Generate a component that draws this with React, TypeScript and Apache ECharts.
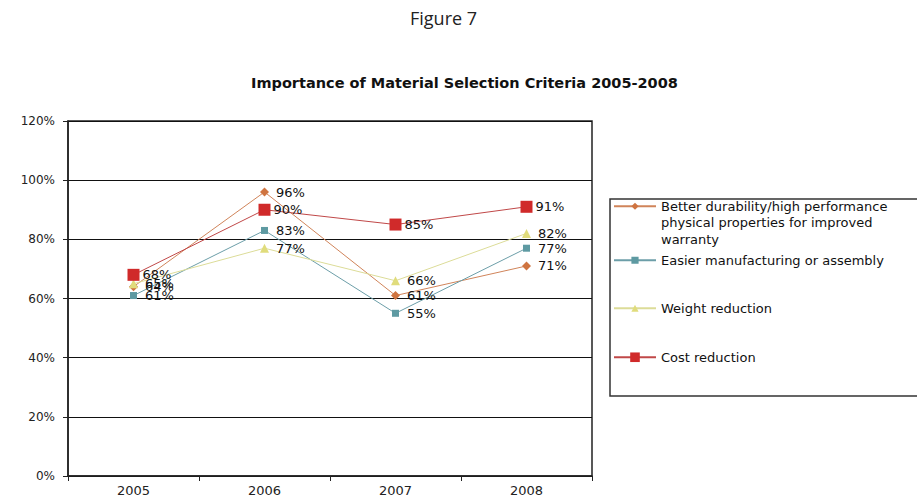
import React, { useEffect, useRef } from "react";
import * as echarts from "echarts";

const years = ["2005", "2006", "2007", "2008"];
const durabilityName =
  "Better durability/high performance physical properties for improved warranty";
const easierName = "Easier manufacturing or assembly";
const weightName = "Weight reduction";
const costName = "Cost reduction";

const durability = [64, 96, 61, 71];
const easier = [61, 83, 55, 77];
const weight = [65, 77, 66, 82];
const cost = [68, 90, 85, 91];

const yTicks = { min: 0, max: 120, interval: 20 };

const FONT = "DejaVu Sans";

export default function App() {
  const ref = useRef<HTMLDivElement>(null);

  useEffect(() => {
    if (!ref.current) return;
    const chart = echarts.init(ref.current, undefined, { renderer: "svg" });

    const labelStyle = (distance: number) => ({
      show: true,
      position: "right" as const,
      distance,
      formatter: "{c}%",
      fontFamily: FONT,
      fontSize: 13,
      color: "#111",
    });

    const legendText = {
      fontFamily: FONT,
      fontSize: 13,
      lineHeight: 16.5,
      color: "#111",
    };

    const legendBase = {
      orient: "vertical" as const,
      left: 613,
      padding: 0,
      itemWidth: 42,
      itemGap: 0,
      selectedMode: false,
      textStyle: legendText,
    };

    chart.setOption({
      animation: false,
      backgroundColor: "#fff",
      title: [
        {
          text: "Figure 7",
          left: 410,
          top: 9,
          padding: 0,
          textStyle: {
            fontFamily: "Open Sans",
            fontSize: 18,
            fontWeight: "normal",
            color: "#222",
          },
        },
        {
          text: "Importance of Material Selection Criteria 2005-2008",
          left: 251,
          top: 75,
          padding: 0,
          textStyle: {
            fontFamily: FONT,
            fontSize: 14.5,
            fontWeight: "bold",
            color: "#111",
          },
        },
      ],
      grid: {
        left: 68,
        top: 121,
        width: 524,
        height: 355,
        show: true,
        borderColor: "#222",
        borderWidth: 1.5,
        containLabel: false,
      },
      legend: [
        {
          ...legendBase,
          top: 165,
          itemHeight: 9,
          data: [durabilityName],
          // two leading blank lines keep the icon level with the first text line
          formatter: () =>
            "\n\nBetter durability/high performance\nphysical properties for improved\nwarranty",
        },
        { ...legendBase, top: 252, itemHeight: 9, data: [easierName] },
        { ...legendBase, top: 300, itemHeight: 9, data: [weightName] },
        { ...legendBase, top: 349, itemHeight: 12, data: [costName] },
      ],
      xAxis: {
        type: "category",
        data: years,
        boundaryGap: true,
        axisLine: { lineStyle: { color: "#222", width: 1.5 } },
        axisTick: { show: true, length: 5, lineStyle: { color: "#222" } },
        axisLabel: {
          fontFamily: FONT,
          fontSize: 13,
          color: "#222",
          margin: 8,
        },
      },
      yAxis: {
        type: "value",
        min: yTicks.min,
        max: yTicks.max,
        interval: yTicks.interval,
        axisLine: { show: true, lineStyle: { color: "#222", width: 1.5 } },
        axisTick: { show: true, length: 5, lineStyle: { color: "#222" } },
        axisLabel: {
          formatter: "{value}%",
          fontFamily: FONT,
          fontSize: 12,
          color: "#222",
          margin: 13,
        },
        splitLine: { show: true, lineStyle: { color: "#111", width: 1 } },
      },
      series: [
        {
          name: durabilityName,
          type: "line",
          data: durability,
          symbol: "diamond",
          symbolSize: 9,
          lineStyle: { color: "#d0845a", width: 1 },
          itemStyle: { color: "#cf7440" },
          label: labelStyle(7),
        },
        {
          name: easierName,
          type: "line",
          data: easier,
          symbol: "rect",
          symbolSize: 7,
          lineStyle: { color: "#6c9ea8", width: 1 },
          itemStyle: { color: "#5e9aa2" },
          label: labelStyle(8),
        },
        {
          name: weightName,
          type: "line",
          data: weight,
          symbol: "triangle",
          symbolSize: 9,
          lineStyle: { color: "#dcdc98", width: 1 },
          itemStyle: { color: "#e0dc7c" },
          label: labelStyle(7),
        },
        {
          name: costName,
          type: "line",
          data: cost,
          symbol: "rect",
          symbolSize: 12,
          lineStyle: { color: "#c04848", width: 1 },
          itemStyle: { color: "#d02a2a" },
          label: labelStyle(3),
        },
      ],
      graphic: [
        {
          type: "rect",
          shape: { x: 610, y: 199, width: 330, height: 197 },
          style: { fill: "none", stroke: "#333", lineWidth: 1.5 },
          silent: true,
        },
      ],
    });

    return () => chart.dispose();
  }, []);

  return (
    <div
      ref={ref}
      style={{
        position: "absolute",
        left: 0,
        top: 0,
        width: 917,
        height: 500,
      }}
    />
  );
}
